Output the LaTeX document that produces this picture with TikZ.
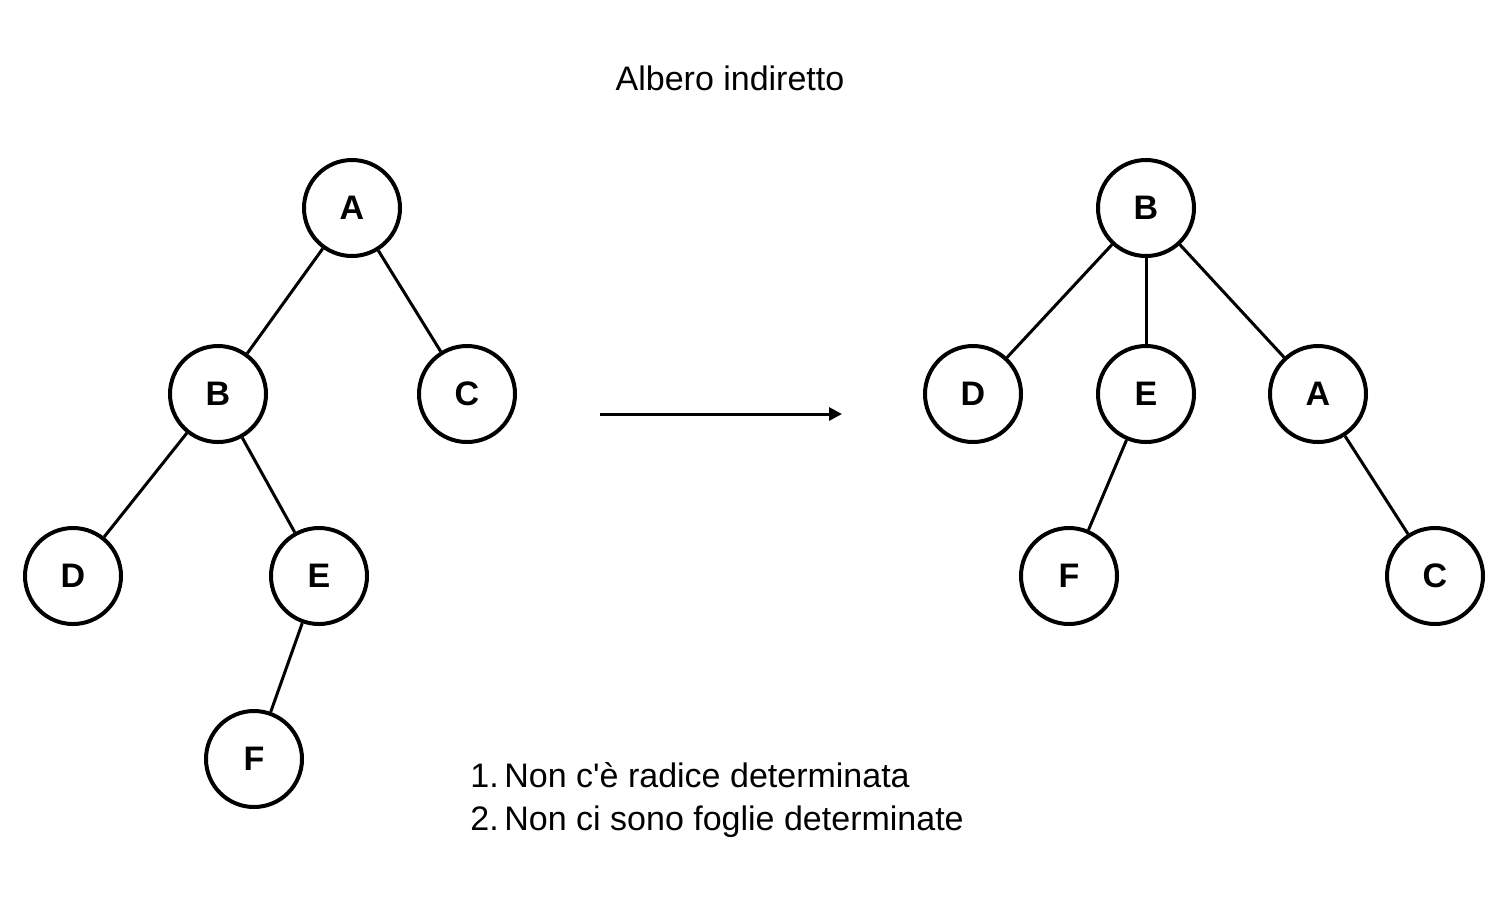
\documentclass[tikz,border=0pt]{standalone}
\usepackage{fontspec}
\setmainfont{Liberation Sans}
\usetikzlibrary{arrows.meta}
\tikzset{
  vertex/.style={circle, draw, line width=2pt, minimum size=48pt, inner sep=0pt,
    font=\fontsize{17}{20}\selectfont\bfseries},
  link/.style={line width=1.5pt},
  note/.style={font=\fontsize{17}{20}\selectfont, inner sep=0pt},
}

\begin{document}
\begin{tikzpicture}[x=0.5pt, y=-0.5pt]
    \useasboundingbox (0,0) rectangle (1510,902);
    \node[note] (title) at (730,78) {Albero indiretto};

    % albero di partenza
    \node[vertex] (lA) at (352,208) {A};
    \node[vertex] (lB) at (218,394) {B};
    \node[vertex] (lC) at (467,394) {C};
    \node[vertex] (lD) at (73,576)  {D};
    \node[vertex] (lE) at (319,576) {E};
    \node[vertex] (lF) at (254,759) {F};
    \foreach \a/\b in {lA/lB, lA/lC, lB/lD, lB/lE, lE/lF}
      \draw[link] (\a) -- (\b);

    % freccia
    \coordinate (from) at (600,414);
    \coordinate (to) at (842,414);
    \draw[link, -{Triangle[length=6.5pt, width=6.5pt]}] (from) -- (to);

    % albero con radice B
    \node[vertex] (rB) at (1146,208) {B};
    \node[vertex] (rD) at (973,394)  {D};
    \node[vertex] (rE) at (1146,394) {E};
    \node[vertex] (rA) at (1318,394) {A};
    \node[vertex] (rF) at (1069,576) {F};
    \node[vertex] (rC) at (1435,576) {C};
    \foreach \a/\b in {rB/rD, rB/rE, rB/rA, rE/rF, rA/rC}
      \draw[link] (\a) -- (\b);

    \node[note, anchor=base west] (first) at (470,787) {1.\,Non c\textquotesingle è radice determinata};
    \node[note, anchor=base west] (second) at (470,830) {2.\,Non ci sono foglie determinate};
  \end{tikzpicture}
\end{document}
